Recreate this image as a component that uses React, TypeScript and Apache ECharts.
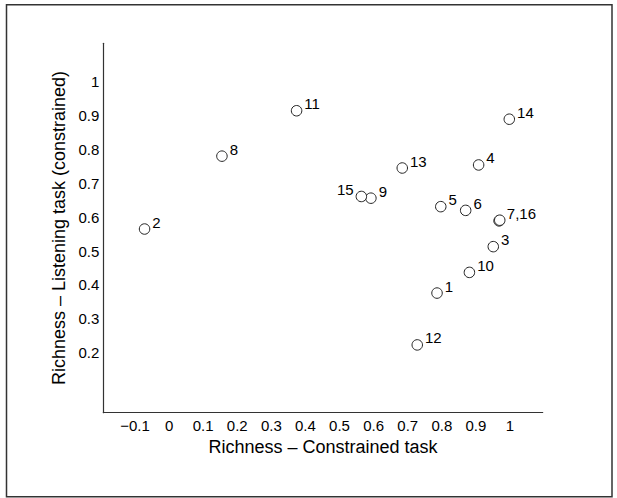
import React, { useEffect, useRef } from "react";
import * as echarts from "echarts";

// Participant ids (one point each)
const pointIds = ["1", "2", "3", "4", "5", "6", "7", "8", "9", "10", "11", "12", "13", "14", "15", "16"];
// Richness – Constrained task (x)
const richConstrained = [0.786, -0.072, 0.951, 0.908, 0.797, 0.87, 0.968, 0.155, 0.592, 0.881, 0.374, 0.728, 0.684, 0.998, 0.564, 0.97];
// Richness – Listening task (constrained) (y)
const richListening = [0.376, 0.565, 0.513, 0.754, 0.631, 0.62, 0.589, 0.78, 0.656, 0.437, 0.914, 0.223, 0.745, 0.889, 0.661, 0.591];
// Text shown next to each point
const pointLabels = ["1", "2", "3", "4", "5", "6", "7,16", "8", "9", "10", "11", "12", "13", "14", "15", ""];
// Points whose label sits on the left
const leftLabelIds = ["15"];

// Tick labels
const xTicks = [-0.1, 0, 0.1, 0.2, 0.3, 0.4, 0.5, 0.6, 0.7, 0.8, 0.9, 1];
const yTicks = [0.2, 0.3, 0.4, 0.5, 0.6, 0.7, 0.8, 0.9, 1];

const FONT = '"Liberation Sans", Arial, Helvetica, sans-serif';

function tickFormatter(ticks: number[]) {
  return (v: number) => {
    const hit = ticks.find((t) => Math.abs(t - v) < 1e-6);
    if (hit === undefined) return "";
    return String(Number(hit.toFixed(1))).replace("-", "\u2212");
  };
}

export default function App() {
  const ref = useRef<HTMLDivElement>(null);
  useEffect(() => {
    if (!ref.current) return;
    const chart = echarts.init(ref.current, undefined, { renderer: "svg" });
    const data = pointIds.map((id, i) => ({
      name: id,
      value: [richConstrained[i], richListening[i]],
      label: leftLabelIds.includes(id)
        ? { position: "left", distance: 2, offset: [0, -7] }
        : { position: "right", distance: 2, offset: [0, -7] },
      labelText: pointLabels[i],
    }));
    chart.setOption({
      animation: false,
      backgroundColor: "#fff",
      graphic: [
        {
          type: "rect",
          shape: { x: 6.5, y: 4.8, width: 605.5, height: 491.9 },
          style: { fill: "none", stroke: "#333", lineWidth: 1.5 },
          silent: true,
        },
      ],
      grid: { left: 103.3, right: 74.3, top: 43.3, bottom: 85.3, containLabel: false },
      xAxis: {
        type: "value",
        min: -0.193,
        max: 1.096,
        splitNumber: 13,
        name: "Richness \u2013 Constrained task",
        nameLocation: "middle",
        nameGap: 22,
        nameTextStyle: { fontFamily: FONT, fontSize: 18, color: "#000" },
        axisLine: { show: true, onZero: false, lineStyle: { color: "#333", width: 1.2 } },
        axisTick: { show: false },
        splitLine: { show: false },
        axisLabel: {
          formatter: tickFormatter(xTicks),
          fontFamily: FONT,
          fontSize: 15,
          color: "#000",
          margin: 5,
          showMinLabel: false,
          showMaxLabel: false,
        },
      },
      yAxis: {
        type: "value",
        min: 0.023,
        max: 1.113,
        splitNumber: 11,
        name: "Richness \u2013 Listening task (constrained)",
        nameLocation: "middle",
        nameGap: 30,
        nameTextStyle: { fontFamily: FONT, fontSize: 18, color: "#000" },
        axisLine: { show: true, onZero: false, lineStyle: { color: "#333", width: 1.2 } },
        axisTick: { show: false },
        splitLine: { show: false },
        axisLabel: {
          formatter: tickFormatter(yTicks),
          fontFamily: FONT,
          fontSize: 15,
          color: "#000",
          margin: 4,
          showMinLabel: false,
          showMaxLabel: false,
        },
      },
      series: [
        {
          type: "scatter",
          symbol: "circle",
          symbolSize: 10.5,
          itemStyle: { color: "#fff", borderColor: "#222", borderWidth: 1, opacity: 1 },
          label: {
            show: true,
            fontFamily: FONT,
            fontSize: 15,
            color: "#000",
            formatter: (p: any) => p.data.labelText,
          },
          emphasis: { disabled: true },
          data,
        },
      ],
    });
    return () => chart.dispose();
  }, []);
  return (
    <div
      ref={ref}
      style={{ position: "fixed", left: 0, top: 0, width: 617, height: 498, background: "#fff" }}
    />
  );
}
